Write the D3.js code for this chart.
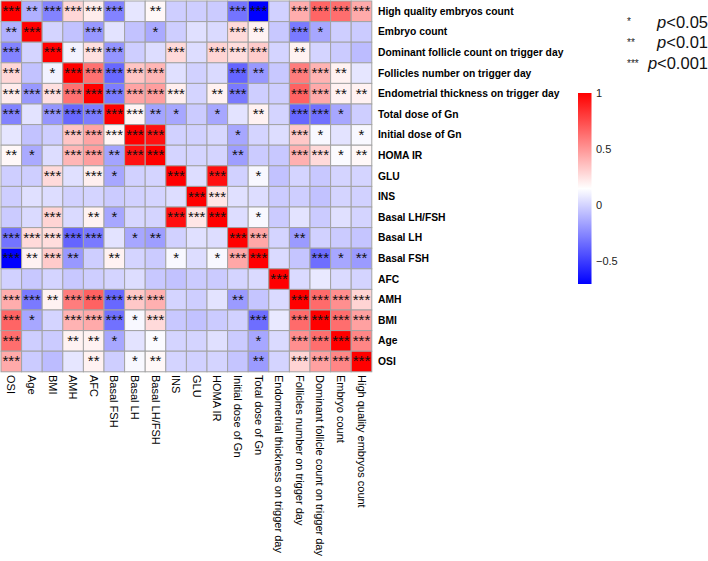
<!DOCTYPE html>
<html><head><meta charset="utf-8">
<script src="https://cdn.jsdelivr.net/npm/d3@7"></script>
<style>
body{margin:0;background:#fff}
text{font-family:"Liberation Sans",Arial,Helvetica,sans-serif}
</style>
</head><body>
<svg id="chart" width="708" height="561"></svg>
<script>
// Column labels (left to right)
const colLabels = ["OSI","Age","BMI","AMH","AFC","Basal FSH","Basal LH","Basal LH/FSH","INS","GLU","HOMA IR",
  "Initial dose of Gn","Total dose of Gn","Endometrial thickness on trigger day","Follicles number on trigger day",
  "Dominant follicle count on trigger day","Embryo count","High quality embryos count"];
// Row labels (top to bottom), as printed in the figure
const rowLabels = ["High quality embryos count","Embryo count","Dominant follicle count on trigger day",
  "Follicles number on trigger day","Endometrial thickness on trigger day","Total dose of Gn","Initial dose of Gn",
  "HOMA IR","GLU","INS","Basal LH/FSH","Basal LH","Basal FSH","AFC","AMH","BMI","Age","OSI"];

// Correlation values, upper triangle incl. diagonal: row i holds columns i..17
const corrUpper = [
  [1, -0.12, -0.27, 0.28, 0.21, -0.27, 0.06, 0.17, -0.02, -0.02, -0.03, -0.32, -0.71, -0.01, 0.42, 0.66, 0.63, 0.43],
  [1, 0.0, -0.06, -0.2, 0.05, -0.06, -0.14, -0.02, 0.04, 0.02, 0.27, 0.19, -0.04, -0.3, -0.15, -0.02, -0.03],
  [1, 0.1, 0.25, -0.21, -0.02, 0.03, 0.27, 0.03, 0.29, 0.26, 0.32, 0.0, 0.19, 0.0, -0.03, -0.08],
  [1, 0.62, -0.36, 0.34, 0.39, 0.04, -0.01, 0.02, -0.37, -0.2, -0.04, 0.58, 0.4, 0.19, 0.06],
  [1, -0.29, 0.45, 0.47, 0.2, 0.0, 0.19, -0.3, -0.02, -0.02, 0.67, 0.43, 0.19, 0.19],
  [1, 0.18, -0.16, -0.15, -0.03, -0.15, 0.05, 0.19, 0.0, -0.36, -0.33, -0.15, -0.02],
  [1, 0.94, -0.01, -0.01, 0.01, -0.15, 0.0, 0.03, 0.33, 0.12, 0.05, 0.12],
  [1, 0.0, 0.0, 0.0, -0.18, -0.03, -0.04, 0.41, 0.27, 0.13, 0.17],
  [1, 0.03, 0.95, -0.01, 0.12, -0.06, 0.0, -0.04, 0.0, 0.0],
  [1, 0.23, 0.04, 0.03, -0.03, -0.02, -0.06, 0.0, -0.01],
  [1, 0.03, 0.12, -0.03, 0.05, -0.03, 0.04, 0.0],
  [1, 0.44, 0.0, -0.19, -0.01, -0.03, -0.05],
  [1, 0.02, -0.05, -0.34, -0.15, -0.19],
  [1, 0.02, 0.07, 0.02, 0.0],
  [1, 0.64, 0.52, 0.29],
  [1, 0.63, 0.46],
  [1, 0.55],
  [1]
];
// Significance (number of asterisks), same layout
const sigUpper = [
  [3,2,3,3,3,3,0,2,0,0,0,3,3,0,3,3,3,3],
  [3,0,0,3,0,0,1,0,0,0,3,2,0,3,1,0,0],
  [3,1,3,3,0,0,3,0,3,3,3,0,2,0,0,0],
  [3,3,3,3,3,0,0,0,3,2,0,3,3,2,0],
  [3,3,3,3,3,0,2,3,0,0,3,3,2,2],
  [3,3,2,1,0,1,0,2,0,3,3,1,0],
  [3,3,0,0,0,1,0,0,3,1,0,1],
  [3,0,0,0,2,0,0,3,3,1,2],
  [3,0,3,0,1,0,0,0,0,0],
  [3,3,0,0,0,0,0,0,0],
  [3,0,1,0,0,0,0,0],
  [3,3,0,2,0,0,0],
  [3,0,0,3,1,2],
  [3,0,0,0,0],
  [3,3,3,3],
  [3,3,3],
  [3,3],
  [3]
];
const legendTicks = [1, 0.5, 0, -0.5];
const sigLegend = [["*","0.05"],["**","0.01"],["***","0.001"]];

const n = colLabels.length;
const cells = [];
for (let i = 0; i < n; i++) for (let j = 0; j < n; j++) {
  const a = Math.min(i, j), b = Math.max(i, j);
  cells.push({i, j, v: corrUpper[a][b - a], s: sigUpper[a][b - a]});
}
const vmin = d3.min(cells, d => d.v), vmax = d3.max(cells, d => d.v);
const color = d3.scaleLinear().domain([vmin, (vmin + vmax) / 2, vmax])
  .range(["#0000ff", "#ffffff", "#ff0000"]).interpolate(d3.interpolateRgb);

const svg = d3.select("#chart");
const x = d3.scaleBand().domain(d3.range(n)).range([1, 371.8]);
const y = d3.scaleBand().domain(d3.range(n)).range([1, 371.8]);
const bw = x.bandwidth(), bh = y.bandwidth();

svg.append("g").selectAll("rect").data(cells).join("rect")
  .attr("x", d => x(d.j)).attr("y", d => y(d.i))
  .attr("width", bw).attr("height", bh)
  .attr("fill", d => color(d.v))
  .attr("stroke", "#a3a3a3").attr("stroke-width", 1);

svg.append("g").selectAll("text").data(cells.filter(d => d.s > 0)).join("text")
  .attr("x", d => x(d.j) + bw / 2).attr("y", d => y(d.i) + bh / 2 + 4.8)
  .attr("text-anchor", "middle").attr("font-size", 15).attr("fill", "#111")
  .text(d => "*".repeat(d.s));

// Row labels
svg.append("g").selectAll("text").data(rowLabels).join("text")
  .attr("x", 378).attr("y", (d, i) => y(i) + bh / 2)
  .attr("dominant-baseline", "central")
  .attr("font-size", 10.3).attr("font-weight", "bold").attr("fill", "#000")
  .text(d => d);

// Column labels
svg.append("g").selectAll("text").data(colLabels).join("text")
  .attr("transform", (d, j) => `translate(${x(j) + bw / 2},375) rotate(90)`)
  .attr("dominant-baseline", "central")
  .attr("font-size", 11).attr("fill", "#000")
  .text(d => d);

// Colour bar
const lgY = d3.scaleLinear().domain([vmin, vmax]).range([284, 93]);
const defs = svg.append("defs");
const grad = defs.append("linearGradient").attr("id", "cbar")
  .attr("x1", 0).attr("y1", 1).attr("x2", 0).attr("y2", 0);
d3.range(0, 1.0001, 0.05).forEach(t => {
  grad.append("stop").attr("offset", t).attr("stop-color", color(vmin + t * (vmax - vmin)));
});
svg.append("rect").attr("x", 578).attr("y", lgY(vmax)).attr("width", 13.5)
  .attr("height", lgY(vmin) - lgY(vmax)).attr("fill", "url(#cbar)");
svg.append("g").selectAll("text").data(legendTicks).join("text")
  .attr("x", 596).attr("y", d => lgY(d)).attr("dominant-baseline", "central")
  .attr("font-size", 11).attr("fill", "#222")
  .text(d => d < 0 ? "\u2212" + Math.abs(d) : String(d));

// Significance legend
const sg = svg.append("g").selectAll("g").data(sigLegend).join("g");
sg.append("text").attr("x", 627).attr("y", (d, i) => 25 + i * 20.8)
  .attr("font-size", 10).attr("fill", "#222").text(d => d[0]);
const pt = sg.append("text").attr("x", 708).attr("y", (d, i) => 27.5 + i * 20.8)
  .attr("text-anchor", "end").attr("font-size", 16.5).attr("fill", "#111");
pt.append("tspan").attr("font-style", "italic").text("p");
pt.append("tspan").text(d => "<" + d[1]);
</script>
</body></html>
